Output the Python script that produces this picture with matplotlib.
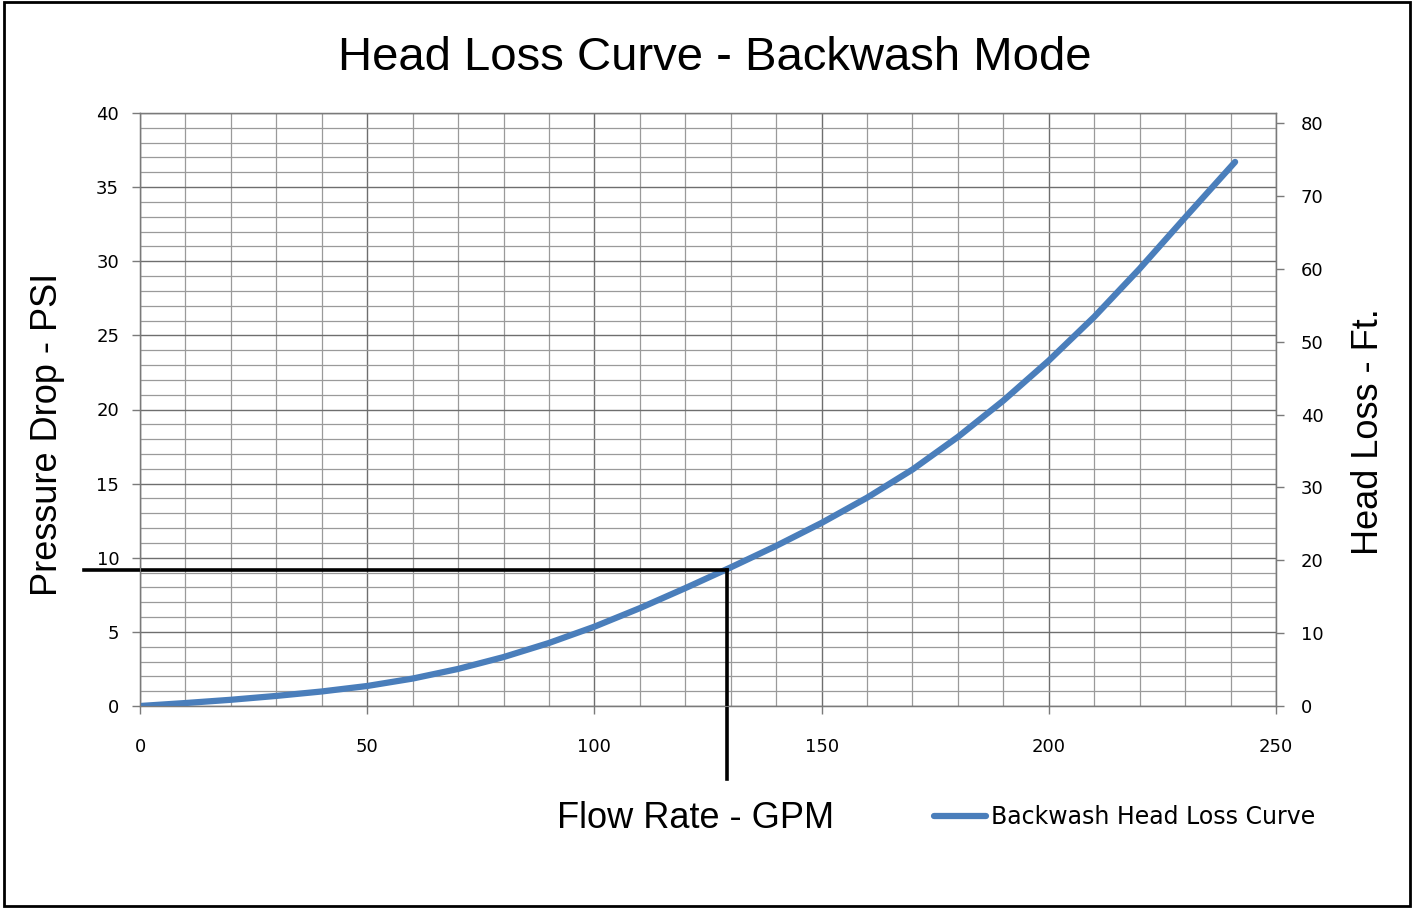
import matplotlib.pyplot as plt
from matplotlib.ticker import MultipleLocator
from matplotlib.patches import Rectangle

# backwash head loss curve
flow_gpm = [0, 10, 20, 30, 40, 50, 60, 70, 80, 90, 100, 110, 120, 130,
            140, 150, 160, 170, 180, 190, 200, 210, 220, 230, 241]
psi_drop = [0, 0.2, 0.42, 0.68, 0.98, 1.35, 1.85, 2.5, 3.3, 4.25, 5.35, 6.6,
            7.95, 9.35, 10.8, 12.35, 14.05, 15.95, 18.15, 20.6, 23.3, 26.25,
            29.5, 32.95, 36.7]

# design point marked with the black guide lines
design_flow = 129.2
design_psi = 9.15

BLUE = "#4a7ebb"
TICK_FONT = "DejaVu Sans"
LABEL_FONT = "Liberation Sans"

W, H = 1419, 923
fig = plt.figure(figsize=(W / 100, H / 100), dpi=100)

# plot area in pixels: x 140..1276, y 113..706
left, right, top, bottom = 140, 1276, 113, 706
ax = fig.add_axes([left / W, 1 - bottom / H, (right - left) / W, (bottom - top) / H])

ax.set_xlim(0, 250)
ax.set_ylim(0, 40)
ax.xaxis.set_major_locator(MultipleLocator(50))
ax.xaxis.set_minor_locator(MultipleLocator(10))
ax.yaxis.set_major_locator(MultipleLocator(5))
ax.yaxis.set_minor_locator(MultipleLocator(1))
ax.grid(which="major", color="#6e6e6e", lw=1.0)
ax.grid(which="minor", color="#9a9a9a", lw=0.9)
ax.set_axisbelow(True)

for s in ax.spines.values():
    s.set_color("#7a7a7a")
    s.set_linewidth(1.0)

ax.tick_params(which="major", direction="out", length=6, width=1, color="#7a7a7a",
               labelsize=13)
ax.tick_params(which="minor", length=0)
ax.tick_params(axis="x", pad=17)
ax.tick_params(axis="y", pad=9)
for lab in ax.get_xticklabels() + ax.get_yticklabels():
    lab.set_fontfamily(TICK_FONT)

line, = ax.plot(flow_gpm, psi_drop, color=BLUE, lw=4.5, solid_capstyle="round",
                label="Backwash Head Loss Curve", zorder=3)

# design-point guide lines, running outside the plot area
ax.plot([-12.3, design_flow], [design_psi, design_psi], color="black", lw=2.6,
        clip_on=False, zorder=4)
ax.plot([design_flow, design_flow], [design_psi, -4.9], color="black", lw=2.6,
        clip_on=False, zorder=4)

# secondary axis: head loss in feet
ax2 = ax.twinx()
ax2.set_ylim(0, 80 * (bottom - top) / (bottom - 123))
ax2.yaxis.set_major_locator(MultipleLocator(10))
ax2.tick_params(direction="out", length=6, width=1, color="#7a7a7a", labelsize=13, pad=12)
for lab in ax2.get_yticklabels():
    lab.set_fontfamily(TICK_FONT)
for s in ax2.spines.values():
    s.set_color("#7a7a7a")

fig.text(715 / W, 1 - 58 / H, "Head Loss Curve - Backwash Mode", fontsize=34,
         family=LABEL_FONT, ha="center", va="center")
fig.text(48 / W, 1 - 434 / H, "Pressure Drop - PSI", fontsize=26, family=LABEL_FONT,
         rotation=90, ha="center", va="center")
fig.text(1368 / W, 1 - 432 / H, "Head Loss - Ft.", fontsize=26, family=LABEL_FONT,
         rotation=90, ha="center", va="center")
fig.text(696 / W, 1 - 818 / H, "Flow Rate - GPM", fontsize=26, family=LABEL_FONT,
         ha="center", va="center")

fig.legend(handles=[line], loc="center left", bbox_to_anchor=(934 / W, 1 - 817 / H),
           frameon=False, prop={"family": TICK_FONT, "size": 17},
           handlelength=2.2, handletextpad=0.2, borderpad=0, borderaxespad=0)

# outer chart border
fig.patches.append(Rectangle((4 / W, 1 - 906 / H), (1410 - 4) / W, (906 - 2) / H,
                             transform=fig.transFigure, fill=False,
                             edgecolor="black", lw=2))

fig.savefig("out.png", dpi=100)
